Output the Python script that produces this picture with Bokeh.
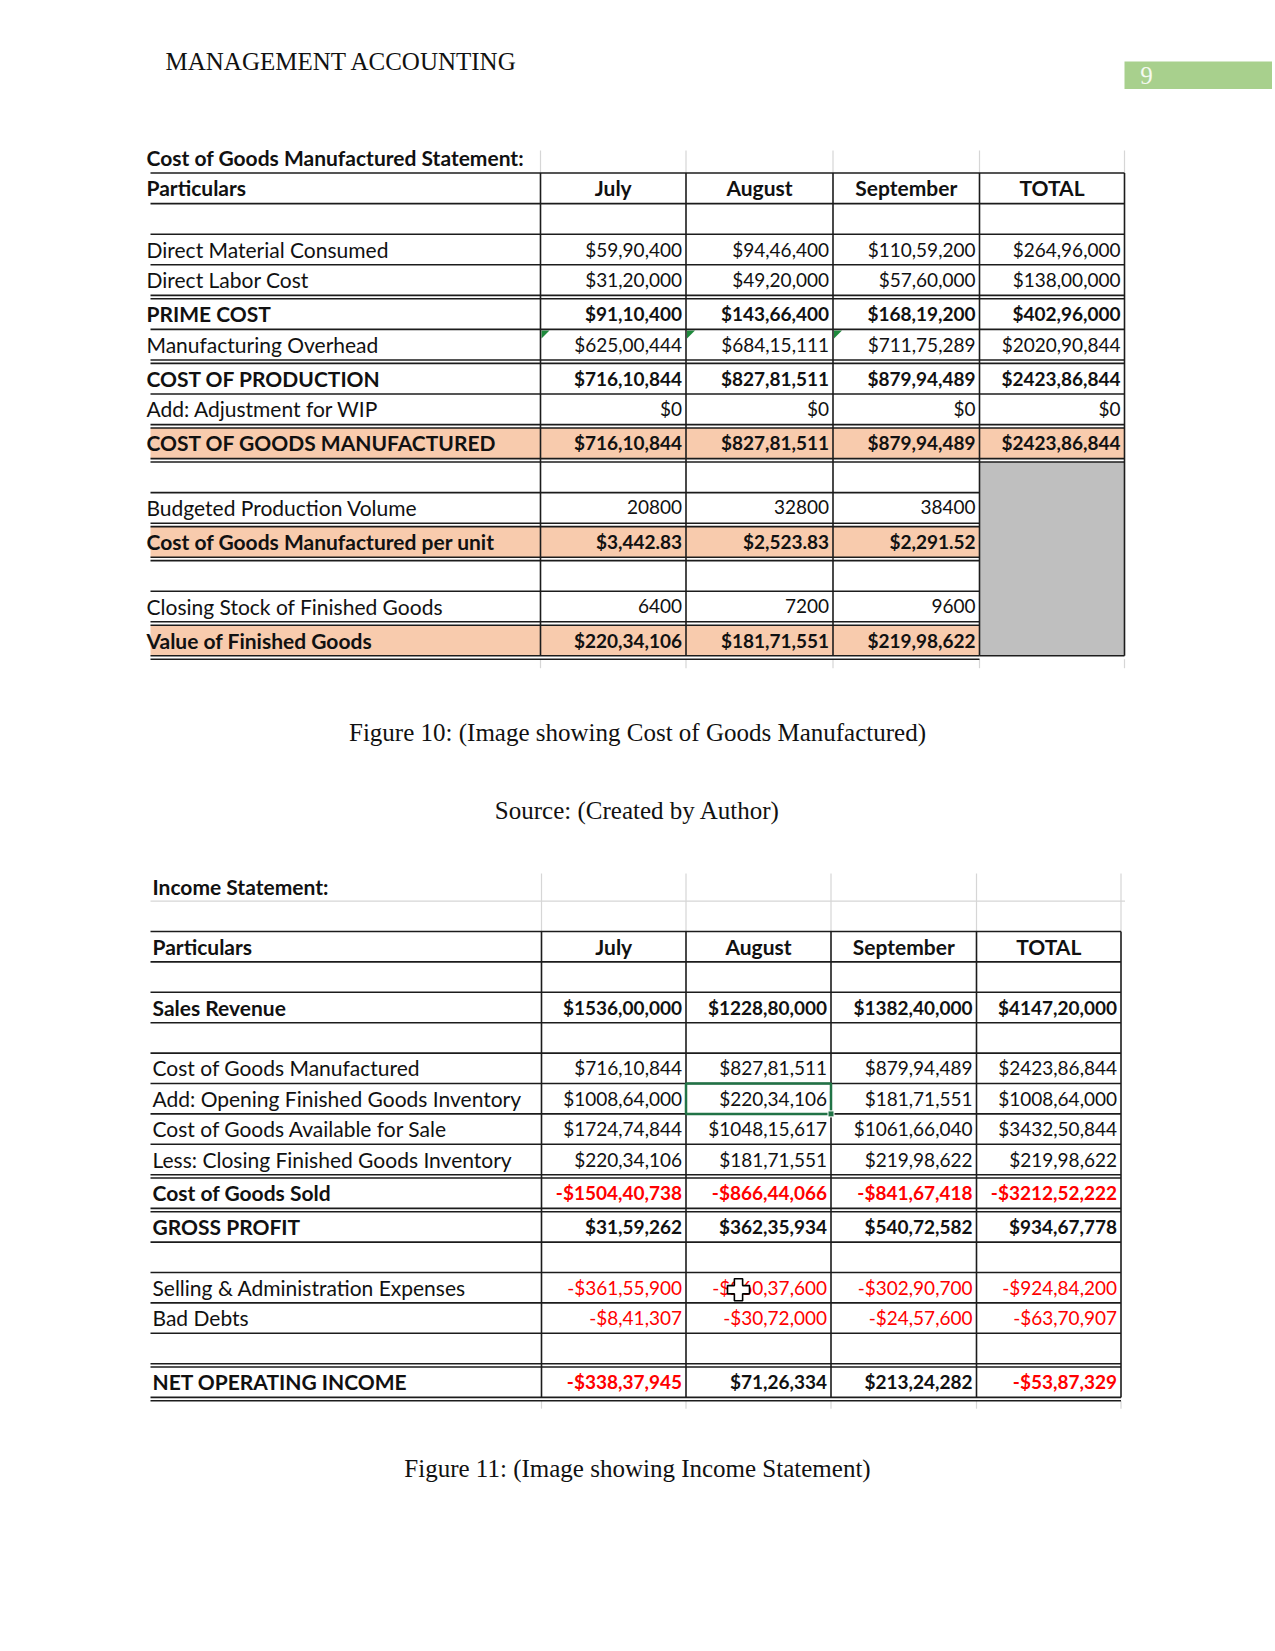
from bokeh.plotting import figure
from bokeh.models import Range1d, ColumnDataSource
from bokeh.embed import file_html
from bokeh.resources import INLINE
from bokeh.core.properties import value

# ---------------- data ----------------
months = ["July", "August", "September", "TOTAL"]

cogm_title = "Cost of Goods Manufactured Statement:"
cogm_labels = ["Direct Material Consumed", "Direct Labor Cost", "PRIME COST",
               "Manufacturing Overhead", "COST OF PRODUCTION", "Add: Adjustment for WIP",
               "COST OF GOODS MANUFACTURED", "Budgeted Production Volume",
               "Cost of Goods Manufactured per unit", "Closing Stock of Finished Goods",
               "Value of Finished Goods"]
direct_material = [5990400, 9446400, 11059200, 26496000]
direct_labor = [3120000, 4920000, 5760000, 13800000]
prime_cost = [9110400, 14366400, 16819200, 40296000]
mfg_overhead = [62500444, 68415111, 71175289, 202090844]
cost_of_production = [71610844, 82781511, 87994489, 242386844]
wip_adjustment = [0, 0, 0, 0]
cogm_total = [71610844, 82781511, 87994489, 242386844]
budgeted_volume = [20800, 32800, 38400]
cogm_per_unit = [3442.83, 2523.83, 2291.52]
closing_stock_units = [6400, 7200, 9600]
value_finished_goods = [22034106, 18171551, 21998622]

inc_title = "Income Statement:"
inc_labels = ["Sales Revenue", "Cost of Goods Manufactured",
              "Add: Opening Finished Goods Inventory", "Cost of Goods Available for Sale",
              "Less: Closing Finished Goods Inventory", "Cost of Goods Sold", "GROSS PROFIT",
              "Selling & Administration Expenses", "Bad Debts", "NET OPERATING INCOME"]
sales_revenue = [153600000, 122880000, 138240000, 414720000]
inc_cogm = [71610844, 82781511, 87994489, 242386844]
opening_fg = [100864000, 22034106, 18171551, 100864000]
available_for_sale = [172474844, 104815617, 106166040, 343250844]
closing_fg = [22034106, 18171551, 21998622, 21998622]
cost_of_goods_sold = [-150440738, -86644066, -84167418, -321252222]
gross_profit = [3159262, 36235934, 54072582, 93467778]
selling_admin = [-36155900, -26037600, -30290700, -92484200]
bad_debts = [-841307, -3072000, -2457600, -6370907]
net_operating_income = [-33837945, 7126334, 21324282, -5387329]

header_text = "MANAGEMENT ACCOUNTING"
page_number = "9"
caption_10 = "Figure 10: (Image showing Cost of Goods Manufactured)"
source_10 = "Source: (Created by Author)"
caption_11 = "Figure 11: (Image showing Income Statement)"


def inr(n):
    neg = n < 0
    s = str(abs(int(round(n))))
    if len(s) > 3:
        last3, rest = s[-3:], s[:-3]
        out = (rest[:-2] + "," + rest[-2:] + "," + last3) if len(rest) > 2 else (rest + "," + last3)
    else:
        out = s
    return ("-" if neg else "") + "$" + out


def usd2(x):
    return "${:,.2f}".format(x)


# ---------------- layout / styles ----------------
W, H = 1272, 1648
ORANGE = "#F8CBAD"
GREY = "#BFBFBF"
LINE = "#1c1c1c"
FAINT = "#d6d6d6"
RED = "#FF0000"
TXT = "#111111"
SANS = "Lato"
SERIF = "Liberation Serif"
LABEL_SIZE = "21px"
VALUE_SIZE = "19px"
SERIF_SIZE = "25px"

p = figure(width=W, height=H, output_backend="svg", toolbar_location=None,
           x_range=Range1d(0, W), y_range=Range1d(H, 0),
           x_axis_type=None, y_axis_type=None, min_border=0,
           background_fill_color="white", border_fill_color="white")
p.grid.visible = False
p.outline_line_color = None

texts = {}


def add_text(x, y, t, font=SANS, size=LABEL_SIZE, style="normal", align="left", color=TXT):
    key = (font, size, style, align)
    d = texts.setdefault(key, {"x": [], "y": [], "text": [], "color": []})
    d["x"].append(x); d["y"].append(y); d["text"].append(t); d["color"].append(color)


segs = {"x0": [], "y0": [], "x1": [], "y1": []}
fsegs = {"x0": [], "y0": [], "x1": [], "y1": []}
quads = {"left": [], "right": [], "top": [], "bottom": [], "color": []}


def seg(d, x0, y0, x1, y1):
    d["x0"].append(x0); d["y0"].append(y0); d["x1"].append(x1); d["y1"].append(y1)


def quad(l, r, t, b, c):
    quads["left"].append(l); quads["right"].append(r)
    quads["top"].append(t); quads["bottom"].append(b); quads["color"].append(c)


def draw_table(rows, styles, cols, top, h, gap, label_x, grey_from=None):
    y = top
    seg(segs, cols[0], y, cols[-1], y)
    row_pos = {}
    grey_top = None
    for i, (row, st) in enumerate(zip(rows, styles)):
        y0, y1 = y, y + h
        in_grey = grey_from is not None and i >= grey_from
        if in_grey and grey_top is None:
            grey_top = y0
        right = cols[-2] if in_grey else cols[-1]
        if "o" in st:
            quad(cols[0], right, y0, y1, ORANGE)
        ym = (y0 + y1) / 2 - 0.5
        if row is not None:
            label, cells = row
            row_pos[label] = (y0, y1)
            fs = "bold" if "b" in st else "normal"
            add_text(label_x, ym, label, style=fs)
            for j, c in enumerate(cells):
                if "h" in st:
                    add_text((cols[j + 1] + cols[j + 2]) / 2, ym, c, style="bold",
                             align="center", size=LABEL_SIZE)
                else:
                    col = RED if c.startswith("-") else TXT
                    add_text(cols[j + 2] - 4, ym, c, size=VALUE_SIZE, style=fs,
                             align="right", color=col)
        seg(segs, cols[0], y1, right, y1)
        y = y1
        if "d" in st:
            y = y1 + gap
            seg(segs, cols[0], y, right, y)
    bottom = y if "d" not in styles[-1] else y - gap
    if grey_top is not None:
        quad(cols[-2], cols[-1], grey_top, bottom, GREY)
        seg(segs, cols[-2], bottom, cols[-1], bottom)
    for x in cols[1:]:
        seg(segs, x, top, x, bottom)
    return row_pos, y


# ---- Table 1 ----
cols1 = [150, 540, 685.5, 832.5, 979, 1124]
t1_rows = [
    ("Particulars", months),
    None,
    (cogm_labels[0], [inr(v) for v in direct_material]),
    (cogm_labels[1], [inr(v) for v in direct_labor]),
    (cogm_labels[2], [inr(v) for v in prime_cost]),
    (cogm_labels[3], [inr(v) for v in mfg_overhead]),
    (cogm_labels[4], [inr(v) for v in cost_of_production]),
    (cogm_labels[5], [inr(v) for v in wip_adjustment]),
    (cogm_labels[6], [inr(v) for v in cogm_total]),
    None,
    (cogm_labels[7], [str(v) for v in budgeted_volume]),
    (cogm_labels[8], [usd2(v) for v in cogm_per_unit]),
    None,
    (cogm_labels[9], [str(v) for v in closing_stock_units]),
    (cogm_labels[10], [inr(v) for v in value_finished_goods]),
]
t1_styles = ["bh", "", "", "d", "b", "d", "b", "d", "bod", "", "d", "bod", "", "d", "bod"]
top1 = 172.5
pos1, end1 = draw_table(t1_rows, t1_styles, cols1, top1, 30.6, 3.4, 146, grey_from=9)
add_text(146, 157, cogm_title, style="bold")
for x in cols1[1:]:
    seg(fsegs, x, 150, x, top1)
    seg(fsegs, x, end1, x, end1 + 9)

# error indicator triangles (Manufacturing Overhead row)
moh_top = pos1[cogm_labels[3]][0]
tri_xs, tri_ys = [], []
for x in cols1[1:4]:
    tri_xs.append([x + 1, x + 9, x + 1])
    tri_ys.append([moh_top + 1, moh_top + 1, moh_top + 9])
p.patches(tri_xs, tri_ys, fill_color="#1e8a3c", line_color=None)

# ---- Table 2 ----
cols2 = [150, 541, 685.5, 830.5, 976, 1120.5]
t2_rows = [
    ("Particulars", months),
    None,
    (inc_labels[0], [inr(v) for v in sales_revenue]),
    None,
    (inc_labels[1], [inr(v) for v in inc_cogm]),
    (inc_labels[2], [inr(v) for v in opening_fg]),
    (inc_labels[3], [inr(v) for v in available_for_sale]),
    (inc_labels[4], [inr(v) for v in closing_fg]),
    (inc_labels[5], [inr(v) for v in cost_of_goods_sold]),
    (inc_labels[6], [inr(v) for v in gross_profit]),
    None,
    (inc_labels[7], [inr(v) for v in selling_admin]),
    (inc_labels[8], [inr(v) for v in bad_debts]),
    None,
    (inc_labels[9], [inr(v) for v in net_operating_income]),
]
t2_styles = ["bh", "", "b", "", "", "", "", "d", "bd", "b", "", "", "", "d", "bd"]
top2 = 931
pos2, end2 = draw_table(t2_rows, t2_styles, cols2, top2, 30.4, 3.3, 152)
add_text(152, 886, inc_title, style="bold")
for x in cols2[1:]:
    seg(fsegs, x, 873, x, top2)
    seg(fsegs, x, end2, x, end2 + 8)
seg(fsegs, cols2[0], 900.7, cols2[-1] + 4, 900.7)

# Excel selection box around August / Opening Finished Goods Inventory
sy0, sy1 = pos2[inc_labels[2]]

# ---------------- draw ----------------
p.quad(left="left", right="right", top="top", bottom="bottom", fill_color="color",
       line_color=None, source=ColumnDataSource(quads))
p.segment(x0="x0", y0="y0", x1="x1", y1="y1", line_color=FAINT, line_width=1.2,
          source=ColumnDataSource(fsegs))
p.segment(x0="x0", y0="y0", x1="x1", y1="y1", line_color=LINE, line_width=1.6,
          source=ColumnDataSource(segs))

p.quad(left=[cols2[2]], right=[cols2[3]], top=[sy0], bottom=[sy1], fill_color=None,
       line_color="#217346", line_width=2.5)
p.quad(left=[cols2[3] - 3], right=[cols2[3] + 3], top=[sy1 - 3], bottom=[sy1 + 3],
       fill_color="#217346", line_color="white", line_width=1)

# page header and captions
p.quad(left=[1124], right=[1280], top=[61], bottom=[88.5], fill_color="#A8D08D", line_color=None)
add_text(165, 61, header_text, font=SERIF, size=SERIF_SIZE)
add_text(1146, 75, page_number, font=SERIF, size=SERIF_SIZE, align="center", color="#f4f9f0")
add_text(637, 731.5, caption_10, font=SERIF, size=SERIF_SIZE, align="center")
add_text(637, 809.5, source_10, font=SERIF, size=SERIF_SIZE, align="center")
add_text(637, 1467.5, caption_11, font=SERIF, size=SERIF_SIZE, align="center")

for (font, size, style, align), d in texts.items():
    p.text(x="x", y="y", text="text", text_color="color", source=ColumnDataSource(d),
           text_font=value(font), text_font_size=size, text_font_style=style,
           text_align=align, text_baseline="middle")

# mouse cursor seen over the S&A row
cy = (pos2[inc_labels[7]][0] + pos2[inc_labels[7]][1]) / 2
p.scatter(x=[738], y=[cy + 2], marker="plus", size=22, fill_color="white",
          line_color="black", line_width=1.6)

open("out.html", "w").write(file_html(p, INLINE))
